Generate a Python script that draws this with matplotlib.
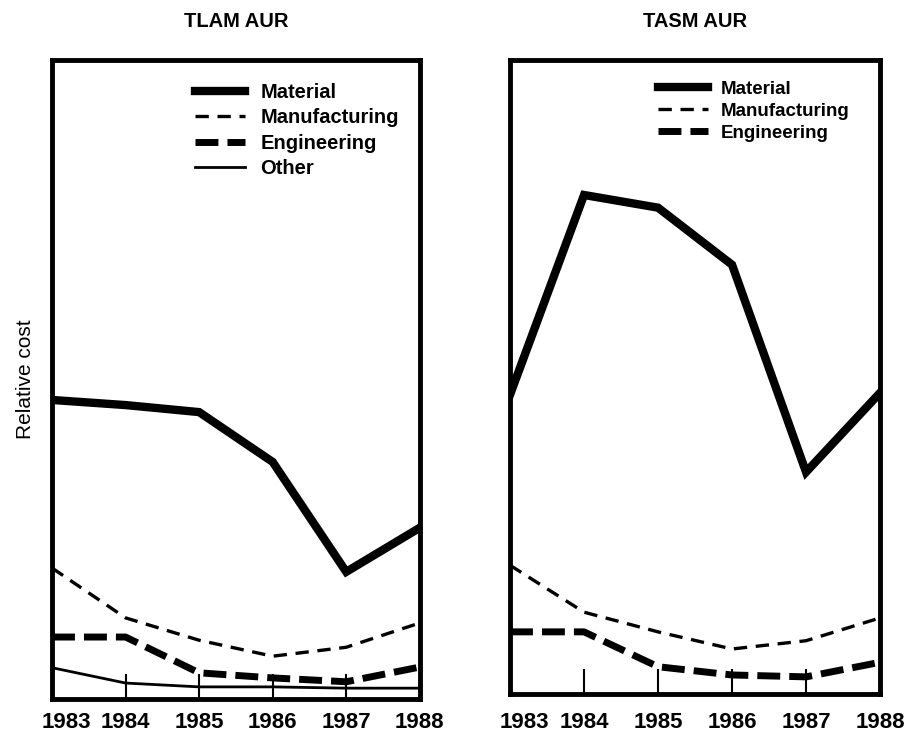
import matplotlib
matplotlib.use("Agg")
import matplotlib.pyplot as plt
from matplotlib.transforms import ScaledTranslation

plt.rcParams['font.family'] = ['Liberation Sans', 'DejaVu Sans']
plt.rcParams['font.weight'] = 'bold'

years = [1983, 1984, 1985, 1986, 1987, 1988]
year_labels = ['1983', '1984', '1985', '1986', '1987', '1988']

# TLAM AUR (relative cost, arbitrary 0-100 scale)
tlam_material = [46.8, 46.0, 44.9, 37.1, 19.9, 26.8]
tlam_manufacturing = [20.5, 12.7, 9.2, 6.7, 8.1, 11.9]
tlam_engineering = [9.7, 9.7, 4.1, 3.3, 2.7, 5.0]
tlam_other = [4.9, 2.5, 1.9, 1.9, 1.7, 1.7]

# TASM AUR
tasm_material = [47.2, 78.7, 76.7, 67.7, 35.0, 47.5]
tasm_manufacturing = [20.3, 12.9, 9.8, 7.1, 8.4, 12.0]
tasm_engineering = [9.8, 9.8, 4.3, 3.0, 2.7, 5.0]

fig = plt.figure(figsize=(9.08, 7.39), dpi=100)
ax1 = fig.add_axes([0.0573, 0.0541, 0.405, 0.8647])
ax2 = fig.add_axes([0.5617, 0.0609, 0.4075, 0.858])


def draw_lines(ax, material, manufacturing, engineering, other=None):
    ax.plot(years, material, color='black', lw=6, solid_joinstyle='miter', label='Material')
    ax.plot(years, manufacturing, color='black', lw=2.4, dashes=(4, 2.6), label='Manufacturing')
    ax.plot(years, engineering, color='black', lw=5, dashes=(3.3, 1.3), label='Engineering')
    if other is not None:
        ax.plot(years, other, color='black', lw=2, label='Other')


def style_axes(ax, title, pad):
    ax.set_xlim(1983, 1988)
    ax.set_ylim(0, 100)
    ax.set_yticks([])
    ax.set_xticks(years)
    ax.set_xticklabels(year_labels, fontsize=16, fontweight='bold')
    ax.tick_params(axis='x', direction='in', length=18, width=1.5, pad=pad)
    # first year label sits a little to the right of the axis edge
    lab = ax.get_xticklabels()[0]
    lab.set_transform(lab.get_transform() + ScaledTranslation(0.14, 0, fig.dpi_scale_trans))
    for sp in ax.spines.values():
        sp.set_linewidth(3.5)
    ax.set_title(title, fontsize=14.5, fontweight='bold', pad=24)


draw_lines(ax1, tlam_material, tlam_manufacturing, tlam_engineering, tlam_other)
style_axes(ax1, 'TLAM AUR', 9)
ax1.set_ylabel('Relative cost', fontsize=15, fontweight='normal', labelpad=12)
ax1.legend(loc='upper left', bbox_to_anchor=(0.389, 0.964), frameon=False,
           fontsize=14.5, handlelength=2.5, handletextpad=0.75, labelspacing=0.32,
           borderpad=0, borderaxespad=0)

draw_lines(ax2, tasm_material, tasm_manufacturing, tasm_engineering)
style_axes(ax2, 'TASM AUR', 13)
ax2.legend(loc='upper left', bbox_to_anchor=(0.40, 0.967), frameon=False,
           fontsize=13.5, handlelength=2.67, handletextpad=0.65, labelspacing=0.25,
           borderpad=0, borderaxespad=0)

fig.savefig('out.png', dpi=100)
